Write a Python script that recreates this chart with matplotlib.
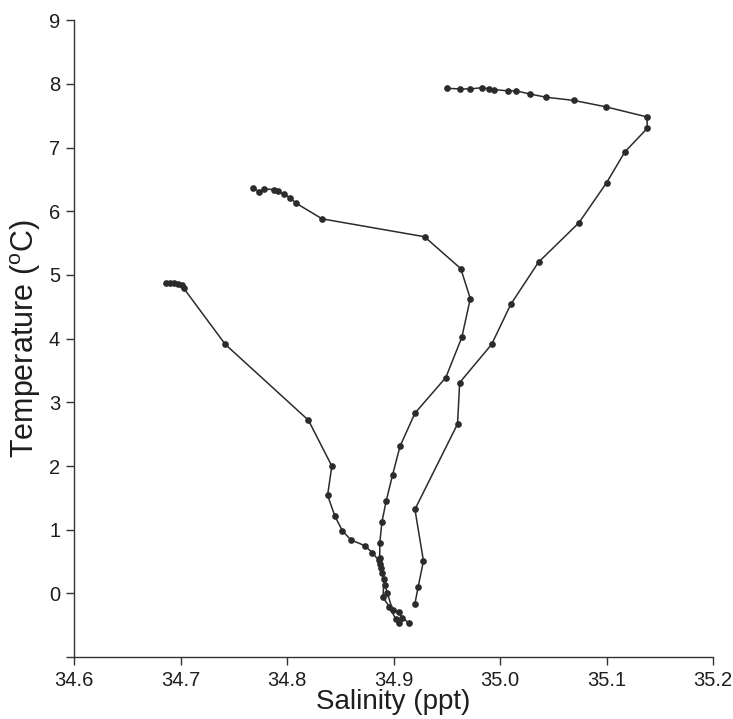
import numpy as np
import matplotlib
matplotlib.use('Agg')
import matplotlib.pyplot as plt

plt.rcParams['font.family'] = ['Liberation Sans', 'DejaVu Sans']
plt.rcParams['mathtext.default'] = 'regular'

# T-S profiles, three stations (salinity in ppt, temperature in deg C)
sal_a = [34.686, 34.690, 34.694, 34.698, 34.701, 34.703, 34.742, 34.820, 34.842,
         34.838, 34.845, 34.852, 34.860, 34.873, 34.880, 34.886, 34.888, 34.889,
         34.891, 34.890, 34.896, 34.902, 34.905]
temp_a = [4.88, 4.87, 4.87, 4.86, 4.84, 4.79, 3.91, 2.72, 2.00,
          1.54, 1.21, 0.98, 0.84, 0.75, 0.64, 0.52, 0.40, 0.32,
          0.22, -0.06, -0.21, -0.40, -0.46]

sal_b = [34.768, 34.774, 34.778, 34.788, 34.791, 34.797, 34.803, 34.808, 34.833,
         34.929, 34.963, 34.972, 34.964, 34.949, 34.920, 34.906, 34.899, 34.893,
         34.889, 34.887, 34.887, 34.887, 34.892, 34.894, 34.899, 34.905, 34.908,
         34.914]
temp_b = [6.37, 6.30, 6.35, 6.34, 6.31, 6.27, 6.21, 6.13, 5.88,
          5.60, 5.10, 4.63, 4.02, 3.39, 2.83, 2.31, 1.86, 1.45,
          1.12, 0.79, 0.55, 0.47, 0.13, 0.01, -0.26, -0.29, -0.38,
          -0.46]

sal_c = [34.950, 34.962, 34.972, 34.983, 34.990, 34.994, 35.007, 35.015, 35.028,
         35.043, 35.069, 35.099, 35.138, 35.138, 35.117, 35.100, 35.074, 35.036,
         35.010, 34.992, 34.962, 34.960, 34.920, 34.928, 34.923, 34.920]
temp_c = [7.93, 7.92, 7.92, 7.94, 7.92, 7.91, 7.89, 7.89, 7.84,
          7.79, 7.74, 7.64, 7.48, 7.30, 6.93, 6.45, 5.82, 5.20,
          4.54, 3.91, 3.31, 2.66, 1.32, 0.51, 0.10, -0.16]

fig = plt.figure(figsize=(7.33, 7.19), dpi=100)
ax = fig.add_axes([0.101, 0.086, 0.872, 0.886])

for s, t in [(sal_a, temp_a), (sal_b, temp_b), (sal_c, temp_c)]:
    ax.plot(s, t, '-o', color='#2b2b2b', linewidth=1.1, markersize=3.8)

ax.set_xlim(34.6, 35.2)
ax.set_ylim(-1, 9)
ax.set_xticks(np.arange(34.6, 35.21, 0.1))
ax.set_xticklabels(['34.6', '34.7', '34.8', '34.9', '35.0', '35.1', '35.2'])
ax.set_yticks(np.arange(-1, 10, 1))
ax.set_yticklabels([''] + [str(i) for i in range(0, 10)])

for side in ['top', 'right']:
    ax.spines[side].set_visible(False)
for side in ['left', 'bottom']:
    ax.spines[side].set_color('#333333')
    ax.spines[side].set_linewidth(1.0)
ax.tick_params(direction='out', length=6, width=1, colors='#333333',
               labelsize=14.5, labelcolor='#1e1e1e', pad=4)

ax.set_xlabel('Salinity (ppt)', fontsize=20, color='#1e1e1e', labelpad=-1)
ax.set_ylabel(r'Temperature ($^{o}$C)', fontsize=22, color='#1e1e1e', labelpad=4)

fig.savefig('out.png', dpi=100)
